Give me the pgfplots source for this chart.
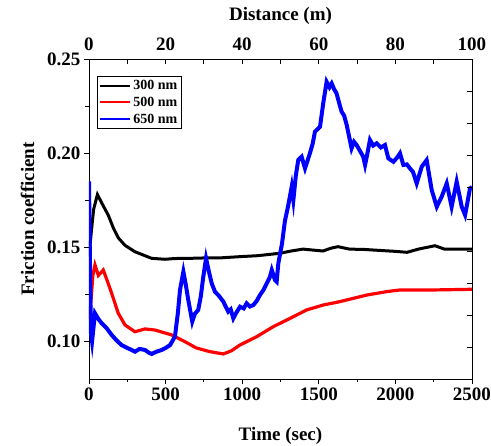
\documentclass[border=0pt]{standalone}
\usepackage{fontspec}
\setmainfont{Liberation Serif}
\usepackage{pgfplots}
\pgfplotsset{compat=1.18}

\pgfplotsset{
  longline legend/.style={
    legend image code/.code={\draw[##1] (0pt,0pt) -- (30pt,0pt);}
  },
}

\begin{document}
\begin{tikzpicture}
\pgfplotsset{
  every axis/.append style={
    scale only axis, width=383pt, height=320pt,
    axis line style={line width=0.9pt},
    every tick/.style={black, line width=0.8pt},
    major tick length=5pt, minor tick length=3.5pt,
    tick label style={font=\fontsize{19}{22}\selectfont\bfseries},
    label style={font=\fontsize{19}{22}\selectfont\bfseries},
  },
}
% main axis: time vs friction coefficient
\begin{axis}[
  name=main,
  xmin=0, xmax=2500, ymin=0.08, ymax=0.25,
  xtick={0,500,1000,1500,2000,2500},
  xticklabels={0,500,1000,1500,2000,2500},
  minor xtick={250,750,1250,1750,2250},
  ytick={0.10,0.15,0.20,0.25},
  yticklabels={0.10,0.15,0.20,0.25},
  minor ytick={0.125,0.175,0.225},
  xtick pos=bottom, ytick pos=left, tick align=outside,
  xlabel={Time (sec)}, ylabel={Friction coefficient},
  xlabel style={yshift=-20pt}, ylabel style={yshift=6pt},
  legend style={at={(0.021,0.947)}, anchor=north west, draw=black, line width=0.6pt,
    font=\fontsize{14}{16}\selectfont\bfseries, row sep=2pt, inner sep=2pt},
  legend cell align=left,
  longline legend,
]
\addlegendimage{color=black, line width=2pt}
\addlegendentry{300 nm}
\addlegendimage{color=red, line width=2pt}
\addlegendentry{500 nm}
\addlegendimage{color=blue, line width=2pt}
\addlegendentry{650 nm}
\addplot[black, line width=3pt, forget plot] coordinates {
(0,0.145) (15,0.158) (30,0.170) (55,0.178) (80,0.174) (126,0.167) (160,0.160)
(191,0.155) (235,0.151) (300,0.1476) (350,0.146) (409,0.1441) (496,0.1436)
(560,0.1440) (659,0.1441) (750,0.1443) (850,0.1443) (986,0.145) (1100,0.1455)
(1247,0.1468) (1320,0.148) (1397,0.149) (1460,0.1485) (1527,0.148) (1580,0.1495)
(1625,0.1503) (1700,0.149) (1800,0.1488) (1919,0.1482) (2000,0.1478) (2076,0.1473)
(2150,0.149) (2258,0.1508) (2320,0.149) (2400,0.149) (2500,0.149)
};
\addplot[red, line width=3.2pt, forget plot] coordinates {
(0,0.112) (10,0.118) (25,0.135) (39,0.1406) (61,0.135) (93,0.1379) (120,0.132)
(148,0.1255) (191,0.1149) (235,0.1087) (300,0.1051) (366,0.1066) (431,0.106)
(540,0.1034) (627,0.0998) (700,0.0965) (790,0.0945) (877,0.0933) (930,0.095)
(986,0.0981) (1095,0.1025) (1203,0.1078) (1312,0.1122) (1421,0.1167) (1529,0.1193)
(1638,0.1211) (1813,0.1246) (1950,0.1265) (2030,0.1273) (2248,0.1273) (2465,0.1276)
(2500,0.1277)
};
\addplot[blue, line width=4pt, forget plot] coordinates {
(0,0.185) (5,0.150) (12,0.105) (20,0.100) (39,0.1149) (60,0.1120) (83,0.1096)
(115,0.1070) (148,0.1034) (180,0.1005) (213,0.098) (250,0.0965) (279,0.0954)
(300,0.0945) (330,0.096) (366,0.0954) (390,0.0940) (409,0.0933) (440,0.0945)
(474,0.0954) (500,0.0965) (529,0.098) (561,0.1025) (580,0.115) (594,0.1273)
(616,0.137) (632,0.130) (648,0.122) (674,0.1105) (690,0.1145) (713,0.1167)
(730,0.1240) (746,0.1343) (764,0.1441) (780,0.1380) (801,0.1308) (822,0.1264)
(850,0.1240) (877,0.1211) (895,0.1180) (909,0.1158) (925,0.1170) (942,0.1122)
(960,0.1150) (986,0.1184) (1010,0.1175) (1029,0.1202) (1050,0.1185) (1073,0.1193)
(1095,0.1215) (1116,0.1246) (1140,0.1275) (1160,0.1308) (1180,0.1340) (1193,0.1379)
(1214,0.1326) (1225,0.1317) (1236,0.1415) (1260,0.152) (1279,0.164) (1300,0.1720)
(1323,0.1821) (1334,0.1751) (1350,0.1880) (1366,0.1964) (1388,0.1981) (1410,0.1919)
(1442,0.1999) (1460,0.2050) (1475,0.2114) (1508,0.214) (1529,0.2265) (1551,0.2379)
(1570,0.2350) (1584,0.237) (1600,0.2340) (1616,0.2317) (1635,0.2260) (1649,0.222)
(1665,0.2200) (1682,0.215) (1714,0.2025) (1730,0.2060) (1747,0.2043) (1770,0.2010)
(1790,0.1981) (1802,0.1937) (1820,0.2010) (1834,0.207) (1855,0.2040) (1878,0.2052)
(1905,0.2030) (1932,0.2043) (1954,0.1972) (1987,0.1954) (2010,0.1975) (2030,0.1999)
(2052,0.1937) (2075,0.1940) (2095,0.1919) (2115,0.1900) (2139,0.1839) (2172,0.1928)
(2204,0.1963) (2237,0.1804) (2270,0.1715) (2302,0.1768) (2335,0.1839) (2367,0.1715)
(2400,0.1848) (2433,0.1715) (2455,0.1671) (2487,0.1813) (2500,0.182)
};
\end{axis}
% top axis: distance
\begin{axis}[
  xmin=0, xmax=100, ymin=0, ymax=1,
  axis x line*=top, hide y axis,
  xtick={0,20,40,60,80,100}, xticklabels={0,20,40,60,80,100},
  minor xtick={10,30,50,70,90},
  minor tick length=5pt,
  tick align=inside,
  xticklabel style={yshift=5pt},
  xlabel={Distance (m)}, xlabel style={yshift=6pt},
]
\end{axis}
% right axis: inner ticks only
\begin{axis}[
  xmin=0, xmax=1, ymin=0, ymax=10,
  axis y line*=right, hide x axis,
  ytick={1,2,3,4,5,6,7,8,9}, yticklabels={},
  tick align=inside,
]
\end{axis}
\pgfresetboundingbox
\path ([xshift=-89pt,yshift=-67pt]main.south west) rectangle ([xshift=19pt,yshift=59pt]main.north east);
\end{tikzpicture}
\end{document}
